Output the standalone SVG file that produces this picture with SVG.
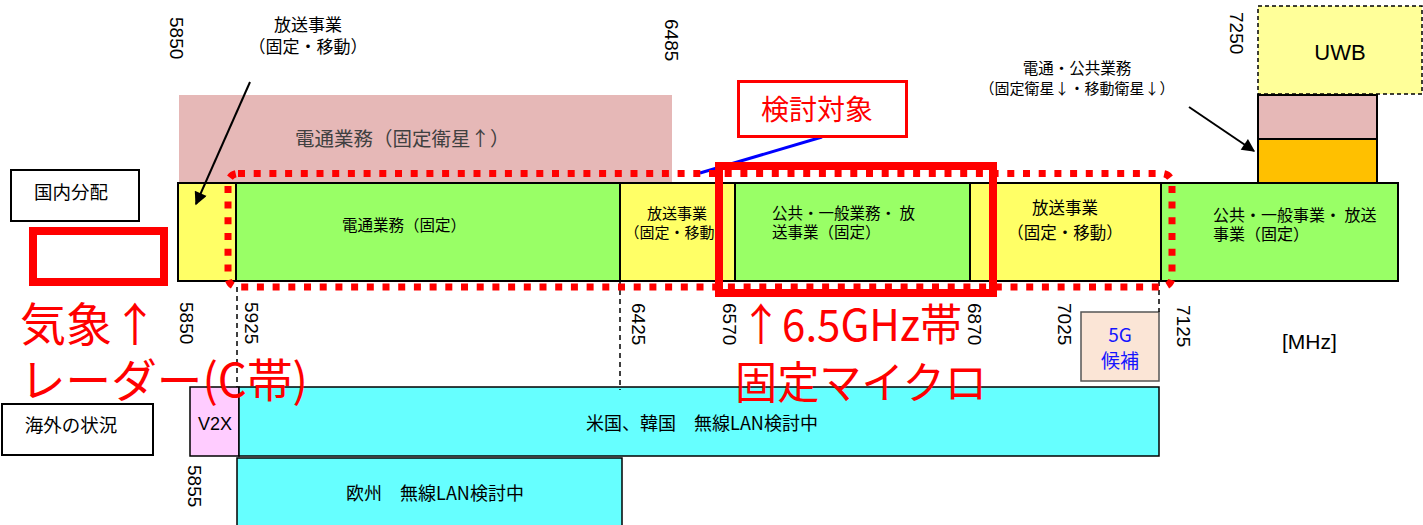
<svg xmlns="http://www.w3.org/2000/svg" width="1423" height="525" viewBox="0 0 1423 525">
<defs>
<style>
.jp{font-family:'Noto Sans CJK JP','Liberation Sans',sans-serif;fill:#000}
.num{font-family:'Liberation Sans',Arial,sans-serif;font-size:19px;fill:#000}
.lat{font-family:'Liberation Sans',Arial,sans-serif;fill:#000}
.blk{stroke:#000;stroke-width:2}
.thin{stroke:#000;stroke-width:1.5}
.dash{stroke:#000;stroke-width:1.5;stroke-dasharray:5 4;fill:none}
.big{font-family:'Noto Sans CJK JP','Liberation Sans',sans-serif;fill:#FF0000}
</style>
<marker id="ah" viewBox="0 0 10 10" refX="9" refY="5" markerWidth="17" markerHeight="13" markerUnits="userSpaceOnUse" orient="auto">
<path d="M0,0 L10,5 L0,10 z" fill="#000"/>
</marker>
</defs>
<rect width="1423" height="525" fill="#fff"/>

<g id="pink-sat">
<rect x="179" y="95" width="493" height="88" fill="#E6B8B7"/>
<text class="jp" x="295" y="146" font-size="19.5" style="fill:#404040">電通業務（固定衛星↑）</text>
</g>

<g id="label-domestic">
<rect x="11" y="170" width="128" height="51" fill="#fff" class="blk"/>
<text class="jp" x="71" y="199" font-size="18.5" text-anchor="middle">国内分配</text>
</g>

<g id="label-overseas">
<rect x="2" y="404" width="151" height="51" fill="#fff" class="blk"/>
<text class="jp" x="71" y="432" font-size="18.5" text-anchor="middle">海外の状況</text>
</g>

<g id="band-5850">
<rect x="178" y="183" width="58" height="98" fill="#FFFF66" class="blk"/>
</g>
<g id="band-telecom-fixed">
<rect x="236" y="183" width="384" height="98" fill="#99FF66" class="blk"/>
<text class="jp" x="404" y="231" font-size="15.5" text-anchor="middle">電通業務（固定）</text>
</g>
<g id="band-broadcast-1">
<rect x="620" y="183" width="115" height="98" fill="#FFFF66" class="blk"/>
<text class="jp" font-size="15" text-anchor="middle"><tspan x="677" y="219">放送事業</tspan><tspan x="677" y="238">（固定・移動）</tspan></text>
</g>
<g id="band-public-1">
<rect x="735" y="183" width="235" height="98" fill="#99FF66" class="blk"/>
<text class="jp" font-size="15.5"><tspan x="772" y="219">公共・一般業務・ 放</tspan><tspan x="772" y="238">送事業（固定）</tspan></text>
</g>
<g id="band-broadcast-2">
<rect x="970" y="183" width="191" height="98" fill="#FFFF66" class="blk"/>
<text class="jp" font-size="16.5" text-anchor="middle"><tspan x="1065" y="214">放送事業</tspan><tspan x="1065" y="239">（固定・移動）</tspan></text>
</g>
<g id="band-public-2">
<rect x="1161" y="183" width="237" height="98" fill="#99FF66" class="blk"/>
<text class="jp" font-size="16"><tspan x="1213" y="221">公共・一般事業・ 放送</tspan><tspan x="1213" y="240">事業（固定）</tspan></text>
</g>

<g id="stack-orange">
<rect x="1258" y="139" width="119" height="44" fill="#FFC000" class="blk"/>
</g>
<g id="stack-pink">
<rect x="1258" y="95" width="119" height="44" fill="#E6B8B7" class="blk"/>
</g>
<g id="uwb">
<rect x="1258" y="6" width="164" height="88" fill="#FFFF99" stroke="#000" stroke-width="1.5" stroke-dasharray="4 3"/>
<text class="lat" x="1340" y="60" font-size="22" text-anchor="middle">UWB</text>
</g>

<g id="label-broadcast-top">
<text class="jp" font-size="17" text-anchor="middle"><tspan x="308" y="31">放送事業</tspan><tspan x="308" y="53">（固定・移動）</tspan></text>
</g>
<g id="label-sat-top">
<text class="jp" font-size="15.5" text-anchor="middle"><tspan x="1077" y="74">電通・公共業務</tspan><tspan x="1077" y="94" font-size="15">（固定衛星↓・移動衛星↓）</tspan></text>
</g>

<g id="v2x">
<rect x="190" y="387" width="49" height="69" fill="#FFCCFF" class="thin"/>
<text class="lat" x="215" y="430" font-size="18" text-anchor="middle">V2X</text>
</g>
<g id="us-korea">
<rect x="239" y="387" width="920" height="69" fill="#66FFFF" class="thin"/>
<text class="jp" x="702" y="430" font-size="18" text-anchor="middle">米国、韓国　無線LAN検討中</text>
</g>
<g id="europe">
<rect x="237" y="458" width="385" height="75" fill="#66FFFF" class="thin"/>
<text class="jp" x="435" y="500" font-size="18" text-anchor="middle">欧州　無線LAN検討中</text>
</g>
<g id="cand-5g">
<rect x="1081" y="312" width="78" height="69" fill="#FBE5D6" stroke="#555" stroke-width="1.5"/>
<text class="jp" font-size="19" text-anchor="middle" style="fill:#1515FF"><tspan x="1120" y="342">5G</tspan><tspan x="1120" y="368">候補</tspan></text>
</g>

<g id="freq-labels">
<text class="num" transform="translate(170,17) rotate(90)">5850</text>
<text class="num" transform="translate(665,19) rotate(90)">6485</text>
<text class="num" transform="translate(1230,12) rotate(90)">7250</text>
<text class="num" transform="translate(180,302) rotate(90)">5850</text>
<text class="num" transform="translate(245,302) rotate(90)">5925</text>
<text class="num" transform="translate(632,303) rotate(90)">6425</text>
<text class="num" transform="translate(723,303) rotate(90)">6570</text>
<text class="num" transform="translate(968,303) rotate(90)">6870</text>
<text class="num" transform="translate(1058,303) rotate(90)">7025</text>
<text class="num" transform="translate(1177,305) rotate(90)">7125</text>
<text class="num" transform="translate(188,465) rotate(90)">5855</text>
<text class="lat" x="1282" y="349" font-size="21">[MHz]</text>
</g>

<g id="connectors">
<line x1="237" y1="287" x2="237" y2="387" class="dash"/>
<line x1="620" y1="281" x2="620" y2="390" class="dash"/>
<line x1="1159" y1="281" x2="1159" y2="312" class="dash"/>
<line x1="250" y1="82" x2="196" y2="204" class="blk" marker-end="url(#ah)"/>
<line x1="1189" y1="107" x2="1254" y2="151" class="blk" marker-end="url(#ah)"/>
<line x1="822" y1="137" x2="700" y2="173" stroke="#0000FF" stroke-width="3"/>
</g>

<g id="target-dotted">
<rect x="228" y="173.5" width="944" height="113.5" rx="10" fill="none" stroke="#FF0000" stroke-width="7" stroke-dasharray="7 8.7"/>
</g>
<g id="target-65ghz">
<rect x="719" y="166" width="274" height="127" fill="none" stroke="#FF0000" stroke-width="8"/>
</g>
<g id="red-marker-box">
<rect x="33" y="231" width="131" height="51" fill="none" stroke="#FF0000" stroke-width="8"/>
</g>
<g id="label-target">
<rect x="738.5" y="81.5" width="168" height="55" fill="#fff" stroke="#FF0000" stroke-width="3"/>
<text class="big" x="817" y="120" font-size="28" text-anchor="middle">検討対象</text>
</g>

<g id="red-notes">
<text class="big" font-size="46"><tspan x="20" y="341">気象↑</tspan><tspan x="20" y="397" textLength="288" lengthAdjust="spacingAndGlyphs">レーダー(C帯)</tspan></text>
<text class="big" font-size="44"><tspan x="740" y="341" textLength="222" lengthAdjust="spacingAndGlyphs">↑6.5GHz帯</tspan><tspan x="735" y="399" textLength="252" lengthAdjust="spacingAndGlyphs">固定マイクロ</tspan></text>
</g>
</svg>
